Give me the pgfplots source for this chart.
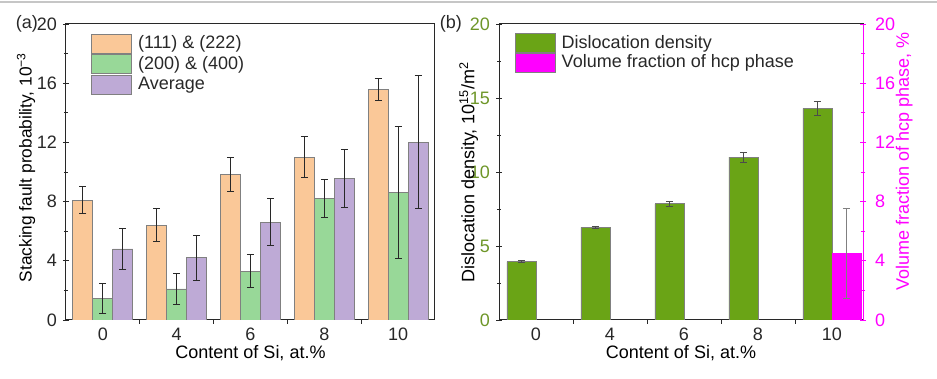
\documentclass[border=0pt]{standalone}
\usepackage{fontspec}
\setmainfont{Liberation Sans}
\usepackage{pgfplots}
\pgfplotsset{compat=1.18}

\definecolor{cOr}{RGB}{250,200,152}
\definecolor{cGl}{RGB}{152,216,152}
\definecolor{cPu}{RGB}{190,170,214}
\definecolor{cDg}{RGB}{106,164,22}
\definecolor{cDgT}{RGB}{110,150,40}
\definecolor{cMg}{RGB}{255,0,255}
\definecolor{cTxt}{RGB}{40,40,40}

\pgfplotsset{
  /pgfplots/ybar legend/.style={/pgfplots/legend image code/.code={%
     \draw[##1, draw=gray, line width=0.8pt] (0pt,-9.5pt) rectangle (40pt,9.5pt);}},
  base/.style={
    scale only axis, height=296pt,
    xmin=-0.5, ymin=0, ymax=20,
    xtick={0,1,2,3,4}, xticklabels={0,4,6,8,10},
    minor xtick={0.5,1.5,2.5,3.5},
    major x tick style={draw=none},
    xtick pos=bottom, ytick pos=left,
    tick align=center,
    major tick length=6pt, minor tick length=4pt,
    tick style={line width=0.8pt, cTxt},
    axis line style={line width=1pt, cTxt},
    tick label style={text=cTxt},
    xticklabel style={yshift=4pt},
    /pgf/number format/assume math mode=true,
    label style={text=cTxt},
    every axis x label/.style={at={(axis description cs:0.5,-0.113)}, anchor=center},
    legend cell align=left,
    error bars/error bar style={line width=1pt, cTxt},
    error bars/error mark options={rotate=90, mark size=3.5pt, line width=1pt, cTxt},
  },
}

\begin{document}
\fontsize{18}{21}\selectfont
\begin{tikzpicture}
\useasboundingbox (0pt,0pt) rectangle (937pt,379pt);
\draw[gray!45, line width=1.2pt] (0pt,377pt) -- (937pt,377pt);

% ---------------- panel (a)
\begin{axis}[base,
  at={(66pt,59pt)}, anchor=south west,
  width=369pt, xmax=4.5,
  ytick={0,4,...,20}, minor y tick num=1,
  ybar=0pt, bar width=20pt,
  xlabel={Content of Si, at.\%},
  every axis y label/.style={at={(axis description cs:-0.108,0.515)}, rotate=90, anchor=center,
     font=\fontsize{17.3}{20}\selectfont},
  ylabel={Stacking fault probability, 10\textsuperscript{−3}},
  legend style={draw=none, fill=none, at={(axis description cs:0.06,0.975)}, anchor=north west,
    row sep=1pt, column sep=4pt, nodes={inner ysep=1pt, text=cTxt}},
]
\addplot+[fill=cOr, draw=gray, line width=0.8pt,
  error bars/.cd, y dir=both, y explicit]
  table[x=x, y=y, y error=e] {
x y e
0 8.1 0.9
1 6.4 1.1
2 9.85 1.15
3 11.0 1.4
4 15.55 0.75
};
\addplot+[fill=cGl, draw=gray, line width=0.8pt,
  error bars/.cd, y dir=both, y explicit]
  table[x=x, y=y, y error=e] {
x y e
0 1.45 1.0
1 2.1 1.05
2 3.3 1.1
3 8.2 1.3
4 8.6 4.45
};
\addplot+[fill=cPu, draw=gray, line width=0.8pt,
  error bars/.cd, y dir=both, y explicit]
  table[x=x, y=y, y error=e] {
x y e
0 4.8 1.4
1 4.2 1.5
2 6.6 1.6
3 9.55 1.95
4 12.0 4.5
};
\legend{(111) \& (222), (200) \& (400), Average}
\end{axis}
\node[anchor=east, text=cTxt, inner sep=0pt] at (38pt,355pt) {(a)};

% ---------------- panel (b), left axis
\begin{axis}[base,
  at={(499pt,59pt)}, anchor=south west,
  width=364pt, xmax=4.42,
  ytick={0,5,...,20}, minor y tick num=1,
  yticklabel style={text=cDgT},
  ybar, bar width=29pt, bar shift=-14.5pt,
  xlabel={Content of Si, at.\%},
  every axis y label/.style={at={(axis description cs:-0.083,0.498)}, rotate=90, anchor=center},
  ylabel={Dislocation density, 10\textsuperscript{15}/m\textsuperscript{2}},
  legend style={draw=none, fill=none, at={(axis description cs:0.035,0.977)}, anchor=north west,
    row sep=0pt, column sep=4pt, nodes={inner ysep=1pt, text=cTxt}},
]
\addplot+[fill=cDg, draw=gray, line width=0.8pt,
  error bars/.cd, y dir=both, y explicit,
  error bar style={line width=0.8pt, black!70},
  error mark options={rotate=90, mark size=3.5pt, line width=0.8pt, black!70}]
  table[x=x, y=y, y error=e] {
x y e
0 3.95 0.05
1 6.25 0.07
2 7.85 0.15
3 11.0 0.35
4 14.3 0.45
};
\addlegendentry{Dislocation density}
\addlegendimage{ybar, ybar legend, fill=cMg, draw=gray}
\addlegendentry{Volume fraction of hcp phase}
\end{axis}

% ---------------- panel (b), right axis
\begin{axis}[base,
  at={(499pt,59pt)}, anchor=south west,
  width=364pt, xmax=4.42,
  axis y line*=right, axis x line=none,
  ytick pos=right, yticklabel pos=right,
  ytick={0,4,...,20}, minor y tick num=1,
  y axis line style={cMg, line width=1pt},
  ytick style={cMg, line width=0.8pt},
  yticklabel style={text=cMg, xshift=3pt},
  ybar, bar width=29pt, bar shift=14.5pt,
  every axis y label/.style={at={(axis description cs:1.113,0.535)}, rotate=90, anchor=center},
  ylabel={Volume fraction of hcp phase, \%},
  ylabel style={text=cMg},
]
\addplot+[fill=cMg, draw=cMg, line width=0.8pt,
  error bars/.cd, y dir=both, y explicit,
  error bar style={line width=0.8pt, gray},
  error mark options={rotate=90, mark size=3.5pt, line width=0.8pt, gray}]
  table[x=x, y=y, y error=e] {
x y e
4 4.5 3.05
};
\end{axis}
\node[anchor=east, text=cTxt, inner sep=0pt] at (462pt,355pt) {(b)};
\end{tikzpicture}
\end{document}
